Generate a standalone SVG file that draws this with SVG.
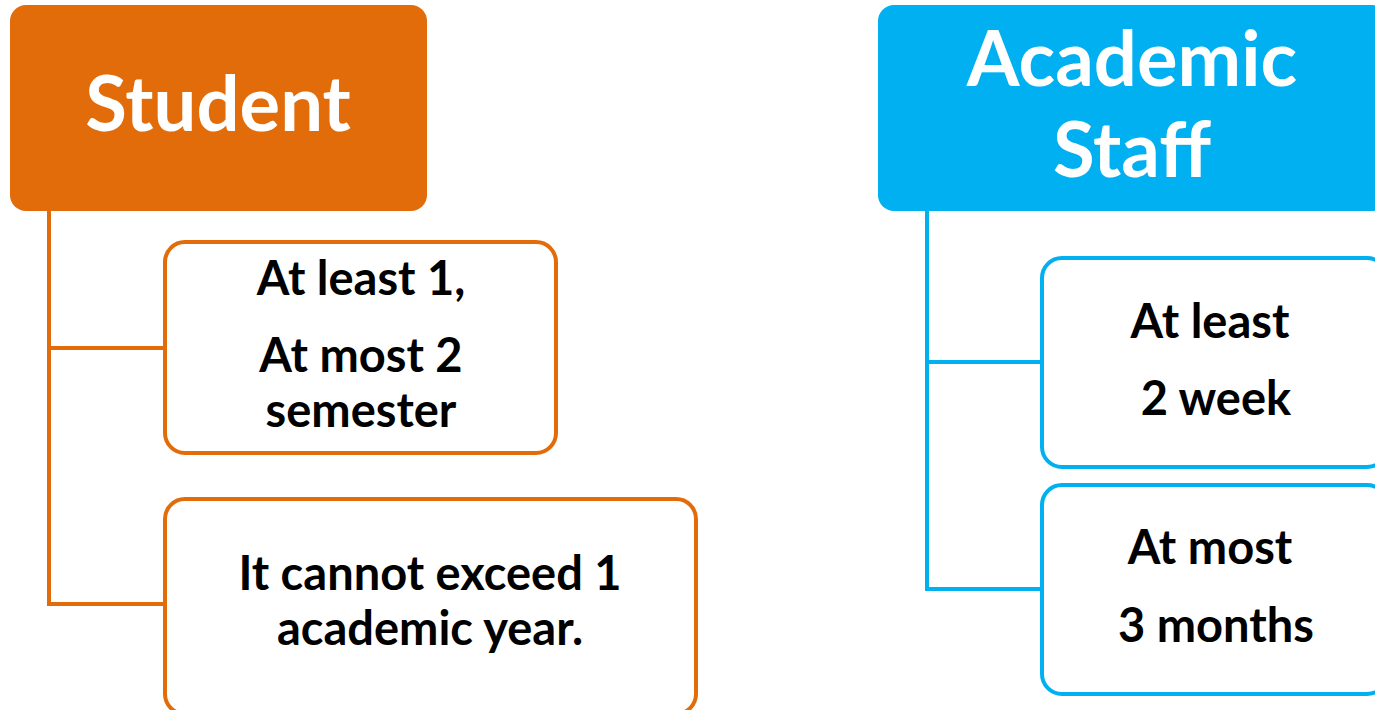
<svg xmlns="http://www.w3.org/2000/svg" width="1375" height="710" viewBox="0 0 1375 710">
<style>
.hdr{font-family:Lato,"Liberation Sans",sans-serif;font-weight:bold;font-size:76px;fill:#fff;text-anchor:middle}
.txt{font-family:Lato,"Liberation Sans",sans-serif;font-weight:bold;font-size:47px;fill:#000;text-anchor:middle}
.ob{fill:#fff;stroke:#E36C0A;stroke-width:4}
.bb{fill:#fff;stroke:#00B0F0;stroke-width:4}
</style>
<rect width="1375" height="710" fill="#fff"/>
<g id="connectors" fill="none" stroke-width="4">
<path d="M49 211 V604 H165 M49 348 H165" stroke="#E36C0A"/>
<path d="M927 211 V589 H1042 M927 362 H1042" stroke="#00B0F0"/>
</g>
<g id="student">
<rect x="10" y="5" width="417" height="206" rx="16" fill="#E36C0A"/>
<text class="hdr" x="218" y="131">Student</text>
</g>
<g id="staff">
<rect x="878" y="5" width="510" height="206" rx="16" fill="#00B0F0"/>
<text class="hdr" x="1132" y="86">Academic</text>
<text class="hdr" x="1132" y="177">Staff</text>
</g>
<g id="student-semesters">
<rect class="ob" x="165" y="242" width="391" height="211" rx="20"/>
<text class="txt" x="361" y="295">At least 1,</text>
<text class="txt" x="361" y="372">At most 2</text>
<text class="txt" x="361" y="427">semester</text>
</g>
<g id="student-year">
<rect class="ob" x="165" y="499" width="531" height="215" rx="20"/>
<text class="txt" x="430" y="590">It cannot exceed 1</text>
<text class="txt" x="430" y="645">academic year.</text>
</g>
<g id="staff-min">
<rect class="bb" x="1042" y="258" width="345" height="209" rx="20"/>
<text class="txt" x="1210" y="338">At least</text>
<text class="txt" x="1216" y="415">2 week</text>
</g>
<g id="staff-max">
<rect class="bb" x="1042" y="485" width="345" height="209" rx="20"/>
<text class="txt" x="1210" y="564">At most</text>
<text class="txt" x="1216" y="642">3 months</text>
</g>
</svg>
